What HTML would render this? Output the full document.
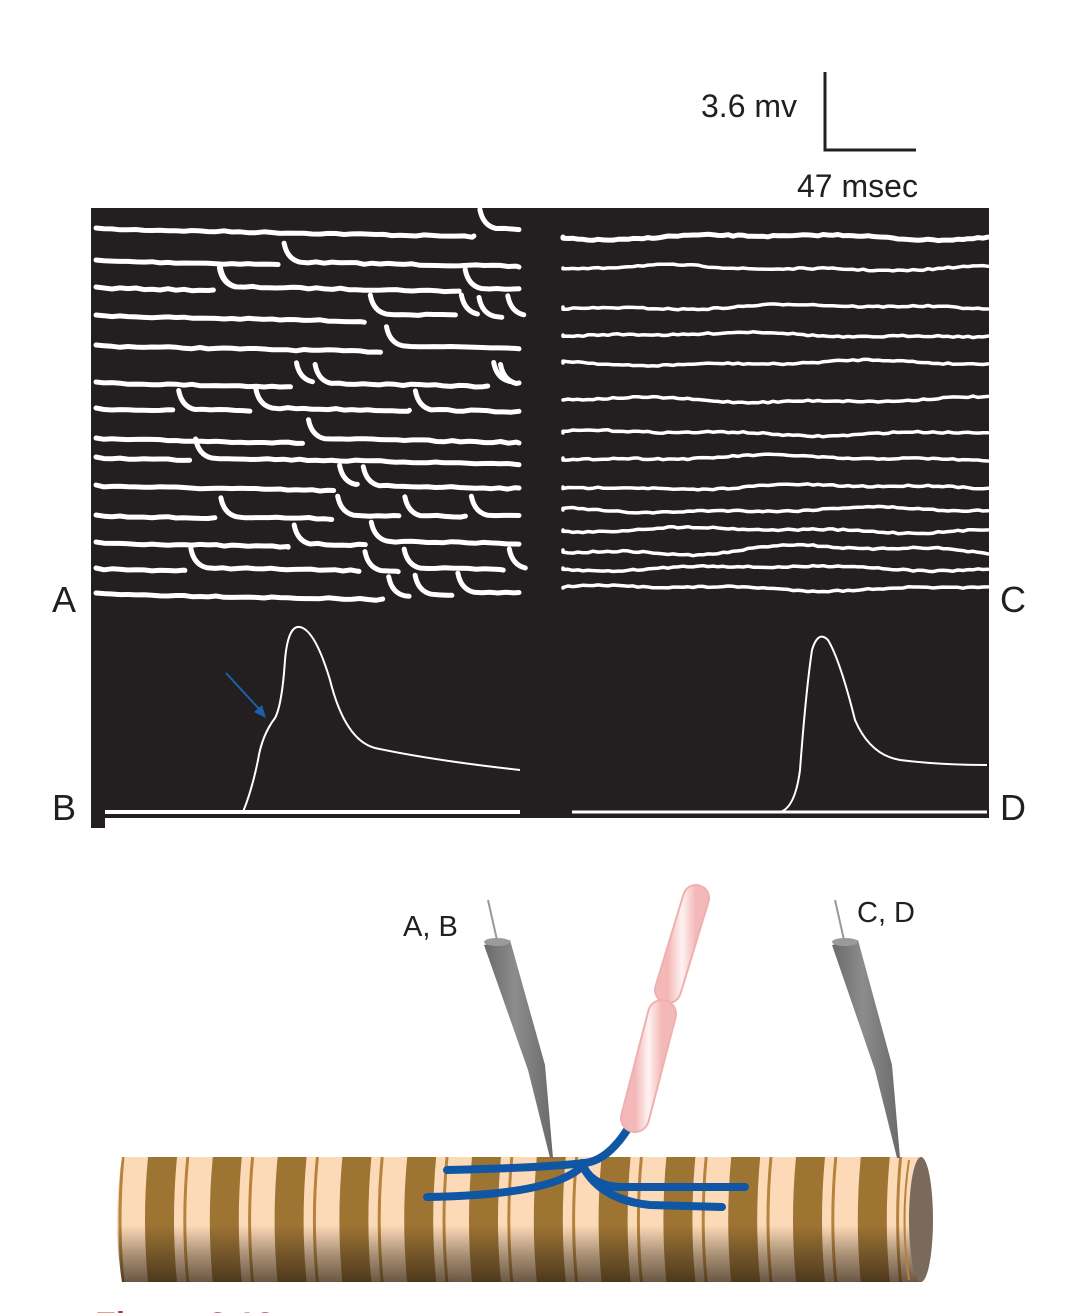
<!DOCTYPE html>
<html><head><meta charset="utf-8"><style>
html,body{margin:0;padding:0;background:#fff;}
svg{display:block;}
text{font-family:"Liberation Sans",Arial,sans-serif;}
</style></head><body>
<svg id="s" width="1080" height="1313" viewBox="0 0 1080 1313" xmlns="http://www.w3.org/2000/svg">
<defs>
<linearGradient id="shade" x1="0" y1="0" x2="0" y2="1">
<stop offset="0" stop-color="#3a2c1c" stop-opacity="0"/>
<stop offset="0.55" stop-color="#3a2c1c" stop-opacity="0.45"/>
<stop offset="1" stop-color="#2a1e10" stop-opacity="0.7"/>
</linearGradient>
<linearGradient id="elec" x1="0" y1="0" x2="1" y2="0">
<stop offset="0" stop-color="#6a6a6a"/>
<stop offset="0.45" stop-color="#8c8c8c"/>
<stop offset="1" stop-color="#6a6a6a"/>
</linearGradient>
<linearGradient id="pink" x1="0" y1="0" x2="1" y2="0">
<stop offset="0" stop-color="#f4b8b8"/>
<stop offset="0.5" stop-color="#fff2f2"/>
<stop offset="1" stop-color="#f4b8b8"/>
</linearGradient>
<clipPath id="cyl"><path d="M122,1157 L922,1157 L922,1282 L122,1282 Q112,1220 122,1157 Z"/></clipPath>
</defs>

<!-- scale bar -->
<text x="701" y="117" font-size="32" fill="#231f20">3.6 mv</text>
<path d="M825,72 L825,150 L916,150" fill="none" stroke="#231f20" stroke-width="3"/>
<text x="797" y="197" font-size="32" fill="#231f20">47 msec</text>

<!-- black panel -->
<rect x="91" y="208" width="898" height="610" fill="#231f20"/>
<rect x="91" y="810" width="14" height="18" fill="#231f20"/>
<g id="traces"></g>

<!-- B trace -->
<path d="M105,812 L243,812 Q252,790 258,760 Q262,735 275,718 Q282,705 285,660 Q288,625 300,627 Q315,630 330,680 Q345,740 375,748 Q430,760 520,770" fill="none" stroke="#fff" stroke-width="2"/>
<path d="M105,812 L520,812" stroke="#fff" stroke-width="4"/>
<!-- D trace -->
<path d="M572,812 L780,812 Q795,808 800,770 Q806,690 812,650 Q818,630 828,640 Q840,660 855,720 Q870,755 900,760 Q940,765 987,765" fill="none" stroke="#fff" stroke-width="2"/>
<path d="M572,812 L987,812" stroke="#fff" stroke-width="3"/>
<!-- blue arrow -->
<line x1="226" y1="673" x2="260" y2="710" stroke="#1f5fa8" stroke-width="2"/>
<polygon points="266,718 254,712 262,705" fill="#1f5fa8"/>

<!-- panel labels -->
<text x="52" y="612" font-size="36" fill="#231f20">A</text>
<text x="1000" y="612" font-size="36" fill="#231f20">C</text>
<text x="52" y="820" font-size="36" fill="#231f20">B</text>
<text x="1000" y="820" font-size="36" fill="#231f20">D</text>

<!-- cylinder -->
<g clip-path="url(#cyl)">
<rect x="100" y="1157" width="830" height="125" fill="#fcdab8"/>
<g id="stripes"></g>
<rect x="100" y="1225" width="830" height="57" fill="url(#shade)"/>
</g>
<ellipse cx="921" cy="1219.5" rx="12" ry="62.5" fill="#7a6a5c"/>
<path d="M909,1160 Q900,1220 909,1280" fill="none" stroke="#b5833c" stroke-width="2"/>

<!-- electrode A,B -->
<line x1="488" y1="900" x2="497" y2="940" stroke="#999" stroke-width="2"/>
<path d="M484,945 L510,940 L545,1065 L553,1158 L550,1158 L528,1070 Z" fill="url(#elec)"/>
<ellipse cx="497" cy="942" rx="13" ry="4" fill="#9a9a9a"/>
<text x="403" y="936" font-size="29" fill="#231f20">A, B</text>
<!-- electrode C,D -->
<line x1="835" y1="900" x2="844" y2="940" stroke="#999" stroke-width="2"/>
<path d="M832,945 L858,940 L892,1065 L900,1158 L897,1158 L875,1070 Z" fill="url(#elec)"/>
<ellipse cx="845" cy="942" rx="13" ry="4" fill="#9a9a9a"/>
<text x="857" y="922" font-size="29" fill="#231f20">C, D</text>

<!-- axon -->
<line x1="697" y1="886" x2="694" y2="896" stroke="#1f5fa8" stroke-width="7"/>
<line x1="668" y1="990" x2="664" y2="1010" stroke="#1f5fa8" stroke-width="5"/>
<line x1="696" y1="898" x2="668" y2="990" stroke="#efb0b0" stroke-width="28" stroke-linecap="round"/>
<line x1="696" y1="898" x2="668" y2="990" stroke="url(#pink)" stroke-width="24" stroke-linecap="round"/>
<path d="M632,1122 Q610,1160 585,1163 Q540,1168 447,1170" fill="none" stroke="#0f56a5" stroke-width="8" stroke-linecap="round"/>
<path d="M585,1163 Q560,1195 427,1197" fill="none" stroke="#0f56a5" stroke-width="8" stroke-linecap="round"/>
<path d="M582,1163 Q590,1186 620,1187 L745,1187" fill="none" stroke="#0f56a5" stroke-width="8" stroke-linecap="round"/>
<path d="M582,1165 Q600,1200 650,1205 L722,1207" fill="none" stroke="#0f56a5" stroke-width="8" stroke-linecap="round"/>
<line x1="662" y1="1014" x2="635" y2="1118" stroke="#efb0b0" stroke-width="30" stroke-linecap="round"/>
<line x1="662" y1="1014" x2="635" y2="1118" stroke="url(#pink)" stroke-width="26" stroke-linecap="round"/>

<text x="95" y="1336" font-size="34" font-weight="bold" fill="#c0392b">Figure 3.12</text>
</svg>
<script>
(function(){
var NS="http://www.w3.org/2000/svg";
var seed=7;function r(){seed=(seed*16807)%2147483647;return (seed-1)/2147483646;}
var g=document.getElementById('traces');
function add(d,w){var p=document.createElementNS(NS,'path');p.setAttribute('d',d);p.setAttribute('fill','none');p.setAttribute('stroke','#fff');p.setAttribute('stroke-width',w);p.setAttribute('stroke-linecap','round');p.setAttribute('stroke-linejoin','round');g.appendChild(p);}
var rowsL=[228,260,287,315,345,382,408,438,457,485,515,542,568,593];
rowsL.forEach(function(y){
  var x=96, n=1+Math.floor(r()*4), ev=[];
  for(var i=0;i<n;i++) ev.push(130+r()*380);
  ev.sort(function(a,b){return a-b;});
  ev.push(525);
  var yy=y;
  ev.forEach(function(e,k){
    var d="M"+x.toFixed(1)+","+(k==0?yy:(yy-18)).toFixed(1);
    if(k>0){d+=" Q"+(x+3)+","+(yy-2)+" "+(x+16)+","+(yy+1);x+=16;}
    var cx=x;
    while(cx<e-6){cx+=8;d+=" L"+Math.min(cx,e-6).toFixed(1)+","+(yy+1+(cx-x)*0.02+(r()-0.5)*1.6).toFixed(1);}
    add(d,5);
    yy=y+(r()-0.5)*4; x=e;
  });
});
var rowsR=[237,268,307,335,363,400,433,458,487,510,530,550,568,588];
rowsR.forEach(function(y,i){
  var d="M563,"+y, ph=r()*6, amp=(i==11?4:2);
  for(var x=563;x<=988;x+=5){d+=" L"+x+","+(y+Math.sin(x/25+ph)*amp*0.6+Math.sin(x/60+ph*2)*amp+(r()-0.5)*1.5).toFixed(1);}
  add(d,i==0?5:3.5);
});
var s=document.getElementById('stripes');
for(var k=0;k<13;k++){
  var b=148+k*64.8;
  var p=document.createElementNS(NS,'path');
  p.setAttribute('d',"M"+b+",1157 L"+(b+29)+",1157 Q"+(b+23)+",1220 "+(b+29)+",1282 L"+b+",1282 Q"+(b-6)+",1220 "+b+",1157 Z");
  p.setAttribute('fill','#9e7433');s.appendChild(p);
  var t=b-25;
  var q=document.createElementNS(NS,'path');
  q.setAttribute('d',"M"+t+",1157 Q"+(t-6)+",1220 "+t+",1282");
  q.setAttribute('fill','none');q.setAttribute('stroke','#b5833c');q.setAttribute('stroke-width','3');s.appendChild(q);
}
})();
</script>
</body></html>
